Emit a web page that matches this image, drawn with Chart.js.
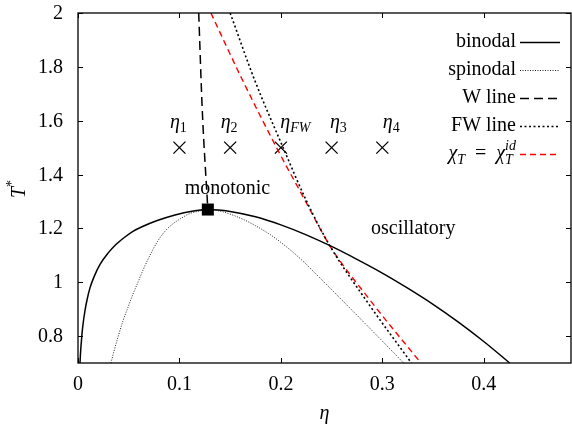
<!DOCTYPE html>
<html lang="en">
<head>
  <meta charset="UTF-8">
  <title>Phase diagram</title>
  <script src="https://cdn.jsdelivr.net/npm/chart.js"></script>
  <style>
    body { margin: 0; background: #fff; }
    canvas { display: block; }
  </style>
</head>
<body>
<canvas id="phase" width="572" height="425"></canvas>
<script>
  // values
  const binodalEta = [0.00197, 0.00246, 0.00296, 0.00394, 0.00493, 0.0069, 0.00887, 0.0118, 0.0158, 0.0217,
                      0.0296, 0.0374, 0.0463, 0.0542, 0.0631, 0.0788, 0.0956, 0.1123, 0.128,
                      0.15, 0.175, 0.2, 0.225, 0.25, 0.275, 0.3, 0.325, 0.35, 0.375, 0.4, 0.4256];
  const binodalT   = [0.70, 0.735, 0.763, 0.808, 0.843, 0.895, 0.934, 0.979, 1.020, 1.066,
                      1.108, 1.14, 1.168, 1.189, 1.206, 1.23, 1.25, 1.264, 1.27,
                      1.263, 1.243, 1.213, 1.176, 1.133, 1.085, 1.034, 0.978, 0.918, 0.852, 0.78, 0.70];
  const spinodalEta = [0.0325, 0.0355, 0.0394, 0.0443, 0.0493, 0.0542, 0.0591, 0.064, 0.069, 0.0739, 0.0788,
                       0.0857, 0.0936, 0.1015, 0.1094, 0.1182, 0.128,
                       0.14, 0.155, 0.169, 0.189, 0.2, 0.219, 0.24, 0.258, 0.268, 0.29, 0.321];
  const spinodalT   = [0.70, 0.744, 0.796, 0.856, 0.907, 0.956, 1.0, 1.044, 1.085, 1.122, 1.154,
                       1.189, 1.217, 1.237, 1.254, 1.263, 1.27,
                       1.264, 1.246, 1.222, 1.178, 1.148, 1.088, 1.010, 0.942, 0.904, 0.82, 0.70];
  const wLineEta = [0.119, 0.1225, 0.128];
  const wLineT   = [2.0, 1.64, 1.27];
  const fwLineEta = [0.150, 0.174, 0.2022, 0.2246, 0.248, 0.284, 0.3287];
  const fwLineT   = [2.0, 1.752, 1.5, 1.307, 1.137, 0.933, 0.70];
  const chiEta = [0.131, 0.162, 0.1967, 0.2234, 0.248, 0.288, 0.338];
  const chiT   = [2.0, 1.752, 1.493, 1.307, 1.137, 0.933, 0.70];
  const critEta = [0.128];
  const critT   = [1.27];
  const markEta = [0.1, 0.15, 0.2, 0.25, 0.3];
  const markT   = [1.5, 1.5, 1.5, 1.5, 1.5];
  const markSubs = ['1', '2', 'FW', '3', '4'];
  const markLabelEta = [0.0906, 0.1406, 0.1995, 0.2483, 0.3005];
  const markLabelT = 1.574;

  const xTicks = [0, 0.1, 0.2, 0.3, 0.4];
  const xTickLabels = ['0', '0.1', '0.2', '0.3', '0.4'];
  const yTicks = [0.8, 1, 1.2, 1.4, 1.6, 1.8, 2];
  const yTickLabels = ['0.8', '1', '1.2', '1.4', '1.6', '1.8', '2'];

  const SERIF = '"Liberation Serif", "DejaVu Serif", serif';
  const F = 20, FS = 14;

  const pts = (xs, ys) => xs.map((x, i) => ({ x: x, y: ys[i] }));

  // text with sub/superscripts: [text, font, dy, advance]
  function rich(ctx, parts, x, y, align) {
    let w = 0;
    parts.forEach(p => { ctx.font = p[1]; if (p[3] !== false) w += ctx.measureText(p[0]).width; });
    let cx = align === 'right' ? x - w : align === 'center' ? x - w / 2 : x;
    ctx.textAlign = 'left';
    ctx.textBaseline = 'alphabetic';
    parts.forEach(p => {
      ctx.font = p[1];
      ctx.fillText(p[0], cx, y + (p[2] || 0));
      if (p[3] !== false) cx += ctx.measureText(p[0]).width;
    });
  }

  const styles = [
    { label: 'binodal', color: '#000', width: 1.5, dash: [] },
    { label: 'spinodal', color: '#222', width: 1, dash: [1, 1.5] },
    { label: 'W line', color: '#000', width: 1.5, dash: [9, 5] },
    { label: 'FW line', color: '#000', width: 1.6, dash: [2, 2.5] },
    { label: 'chi', color: '#ff0000', width: 1.4, dash: [6, 4] }
  ];

  const decor = {
    id: 'decor',
    afterDraw(chart) {
      const ctx = chart.ctx;
      const a = chart.chartArea;
      const xs = chart.scales.x, ys = chart.scales.y;
      ctx.save();
      ctx.fillStyle = '#000';
      ctx.strokeStyle = '#000';

      // frame and inward ticks
      ctx.lineWidth = 1.3;
      ctx.setLineDash([]);
      ctx.strokeRect(a.left, a.top, a.right - a.left, a.bottom - a.top);
      ctx.lineWidth = 1;
      ctx.beginPath();
      xTicks.forEach(v => {
        const px = Math.round(xs.getPixelForValue(v)) + 0.5;
        ctx.moveTo(px, a.bottom); ctx.lineTo(px, a.bottom - 5);
        ctx.moveTo(px, a.top); ctx.lineTo(px, a.top + 5);
      });
      yTicks.forEach(v => {
        const py = Math.round(ys.getPixelForValue(v)) + 0.5;
        ctx.moveTo(a.left, py); ctx.lineTo(a.left + 5, py);
        ctx.moveTo(a.right, py); ctx.lineTo(a.right - 5, py);
      });
      ctx.stroke();

      // tick labels
      ctx.font = F + 'px ' + SERIF;
      ctx.textBaseline = 'alphabetic';
      ctx.textAlign = 'center';
      xTicks.forEach((v, i) => ctx.fillText(xTickLabels[i], xs.getPixelForValue(v), a.bottom + 27));
      ctx.textAlign = 'right';
      yTicks.forEach((v, i) => ctx.fillText(yTickLabels[i], a.left - 15, ys.getPixelForValue(v) + 6));

      // axis titles
      rich(ctx, [['η', 'italic ' + F + 'px ' + SERIF]], (a.left + a.right) / 2, 419, 'center');
      ctx.save();
      ctx.translate(25, 198);
      ctx.rotate(-Math.PI / 2);
      rich(ctx, [['T', 'italic ' + F + 'px ' + SERIF], ['*', FS + 'px ' + SERIF, -9]], 0, 0, 'left');
      ctx.restore();

      // marker labels
      markLabelEta.forEach((v, i) => {
        const subFont = (markSubs[i] === 'FW' ? 'italic ' : '') + FS + 'px ' + SERIF;
        rich(ctx, [['η', 'italic ' + F + 'px ' + SERIF], [markSubs[i], subFont, 4]],
          xs.getPixelForValue(v), ys.getPixelForValue(markLabelT), 'left');
      });

      // region labels
      rich(ctx, [['monotonic', F + 'px ' + SERIF]], xs.getPixelForValue(0.1473), ys.getPixelForValue(1.326), 'center');
      rich(ctx, [['oscillatory', F + 'px ' + SERIF]], xs.getPixelForValue(0.3305), ys.getPixelForValue(1.178), 'center');

      // legend (gnuplot style: text then sample)
      const rowY = [42, 70, 98, 126, 154];
      styles.forEach((s, i) => {
        const y = rowY[i];
        if (s.label === 'chi') {
          const it = 'italic ' + F + 'px ' + SERIF, its = 'italic ' + FS + 'px ' + SERIF;
          rich(ctx, [['χ', it], ['T', its, 5], ['  =  ', F + 'px ' + SERIF], ['χ', it], ['T', its, 5, false], ['id', its, -9]],
            516, y + 5, 'right');
        } else {
          rich(ctx, [[s.label, F + 'px ' + SERIF]], 516, y + 5, 'right');
        }
        ctx.strokeStyle = s.color;
        ctx.lineWidth = s.width;
        ctx.setLineDash(s.dash);
        ctx.beginPath();
        ctx.moveTo(520, y + 0.5); ctx.lineTo(560, y + 0.5);
        ctx.stroke();
      });
      ctx.restore();
    }
  };

  const lineSet = (data, s) => ({
    data: data, showLine: true, pointRadius: 0, borderColor: s.color, borderWidth: s.width,
    borderDash: s.dash, cubicInterpolationMode: 'monotone', fill: false
  });

  new Chart(document.getElementById('phase').getContext('2d'), {
    type: 'scatter',
    data: {
      datasets: [
        lineSet(pts(binodalEta, binodalT), styles[0]),
        lineSet(pts(spinodalEta, spinodalT), styles[1]),
        lineSet(pts(wLineEta, wLineT), styles[2]),
        lineSet(pts(fwLineEta, fwLineT), styles[3]),
        lineSet(pts(chiEta, chiT), styles[4]),
        {
          data: pts(markEta, markT), showLine: false, pointStyle: 'crossRot', pointRadius: 8.5,
          borderColor: '#000', borderWidth: 1.3, backgroundColor: '#000'
        },
        {
          data: pts(critEta, critT), showLine: false, pointStyle: 'rect', pointRadius: 8.5,
          borderColor: '#000', borderWidth: 0, backgroundColor: '#000'
        }
      ]
    },
    options: {
      responsive: false,
      animation: false,
      layout: { autoPadding: false, padding: { left: 0, right: 1, top: 13, bottom: 0 } },
      plugins: { legend: { display: false }, tooltip: { enabled: false } },
      scales: {
        x: {
          type: 'linear', min: 0, max: 0.486,
          grid: { display: false }, border: { display: false },
          ticks: { display: false },
          afterBuildTicks: s => { s.ticks = xTicks.map(v => ({ value: v })); },
          afterFit: s => { s.height = 62; }
        },
        y: {
          type: 'linear', min: 0.7, max: 2,
          grid: { display: false }, border: { display: false },
          ticks: { display: false },
          afterBuildTicks: s => { s.ticks = yTicks.map(v => ({ value: v })); },
          afterFit: s => { s.width = 78; }
        }
      }
    },
    plugins: [decor]
  });
</script>
</body>
</html>
